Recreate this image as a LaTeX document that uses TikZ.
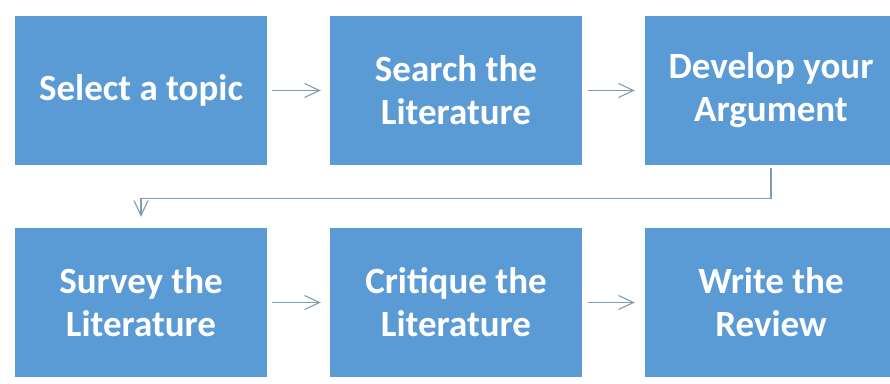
\documentclass[tikz,border=0pt]{standalone}
\usepackage{fontspec}
\setmainfont{Carlito}
\usetikzlibrary{positioning,arrows.meta}

\definecolor{boxblue}{RGB}{91,155,213}
\definecolor{linkgrey}{RGB}{125,158,178}

\begin{document}
\begin{tikzpicture}[node distance=212pt and 315pt,on grid,
    stepbox/.style={rectangle,fill=boxblue,text=white,minimum width=252pt,minimum height=149pt,
      align=center,font=\fontsize{37}{43}\selectfont\bfseries},
    link/.style={draw=linkgrey,line width=1.1pt,-{Straight Barb[length=15pt,width=14pt]}}]
                            \useasboundingbox (0,0) rectangle (890pt,-383pt);
                            \node[stepbox]  (select)   at (141pt,-90.5pt)   {Select a topic};
                            \node[stepbox]  (search)   [right=of select]   {Search the\\Literature};
                            \node[stepbox]  (develop)  [right=of search]   {Develop your\\Argument};
                            \node[stepbox]  (survey)   [below=of select]   {Survey the\\Literature};
                            \node[stepbox]  (critique) [right=of survey]   {Critique the\\Literature};
                            \node[stepbox]  (write)    [right=of critique] {Write the\\Review};

                            \path[link,shorten <=5pt,shorten >=9pt]
                                (select) edge (search)
                                (survey) edge (critique);
                            \path[link,shorten <=6pt,shorten >=10pt]
                                (search) edge (develop)
                                (critique) edge (write);
                            \draw[link,shorten <=3pt,shorten >=11pt]
                                (develop.south) -- ++(0,-33pt) -| (survey.north);
                        \end{tikzpicture}
\end{document}
